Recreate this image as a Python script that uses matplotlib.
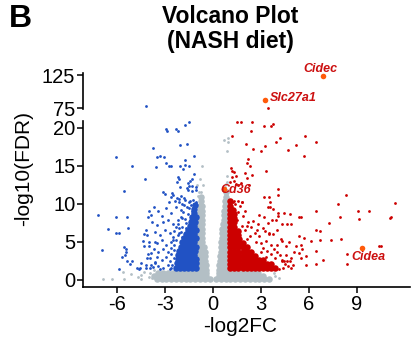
import matplotlib
matplotlib.use("Agg")
import matplotlib.pyplot as plt

plt.rcParams["font.family"] = ["Liberation Sans", "DejaVu Sans"]

RED = "#cc0000"
BLUE = "#2152c4"
GRAY = "#b3bfc5"
ORANGE = "#ff5a0a"
LABEL_RED = "#cc1010"

# ---- down-regulated genes (blue), scattered points
down_fc = [
    -3.71, -6.06, -5.06, -4.21, -5.54, -7.19, -6.04, -5.37, -3.96, -4.07,
    -3.88, -6.55, -6.04, -5.83, -5.29, -4.17, -4.30, -4.13, -4.36, -4.00,
    -3.63, -4.30, -3.99, -6.91, -5.54, -5.43, -5.39, -5.45, -5.66, -4.05,
    -3.84, -4.13, -3.93, -5.33, -5.02, -5.17, -4.50, -4.15, -3.86, -3.63,
    -5.87, -4.71, -4.63, -4.55, -4.17, -3.94, -3.76,
    -1.48, -2.93, -2.83, -2.29, -2.20, -1.73, -2.04, -1.60, -3.51, -3.30,
    -3.06, -1.19, -3.55, -2.93, -2.75, -2.58, -2.04, -1.71, -1.75, -1.46,
    -1.88, -1.19, -2.16, -2.12, -1.29, -1.44, -1.54, -2.22, -2.02, -1.63,
    -1.50, -1.27, -1.07, -1.54, -1.32, -1.04, -3.14, -2.99, -2.53, -2.47,
    -2.60, -2.25, -2.10, -1.98, -2.75, -2.35, -2.12, -1.79, -1.71, -1.44,
    -1.25, -1.04, -1.46,
    -3.70, -3.40, -3.20, -2.90, -2.60, -2.30, -2.00, -1.80, -1.50, -1.20,
    -3.80, -3.50, -3.10, -2.80, -2.50, -2.20, -1.90, -1.70, -2.10, -2.40,
    -3.60, -3.30, -3.00, -2.70, -2.50, -2.20, -3.50, -3.20, -2.90, -2.60,
    -3.70, -3.40, -3.10, -2.80, -2.60, -3.50, -3.20, -2.90, -2.70, -3.60,
    -3.40, -3.10, -2.80, -2.60, -3.30, -2.45, -2.45, -2.50, -2.30, -2.00,
    -1.90, -1.60, -1.35, -1.10, -1.85, -1.55, -1.30, -2.00, -1.75, -1.45,
    -2.20, -1.95, -1.70, -2.10, -1.95, -2.30, -2.45, -2.60, -2.55, -2.65,
    -4.19,
]
down_fdr = [
    17.3, 16.1, 14.9, 13.2, 11.7, 8.5, 8.3, 8.2, 9.0, 8.3,
    8.5, 6.7, 6.1, 6.1, 6.8, 6.6, 6.0, 5.9, 5.1, 5.0,
    5.0, 4.4, 4.5, 3.9, 4.3, 4.0, 3.6, 3.3, 3.0, 3.4,
    3.5, 2.8, 2.8, 2.4, 2.4, 2.1, 2.2, 2.0, 1.9, 2.2,
    1.4, 1.6, 1.4, 1.5, 1.5, 1.6, 1.7,
    20.7, 19.8, 19.6, 19.8, 19.6, 20.3, 17.7, 17.8, 16.1, 16.3,
    16.1, 16.3, 14.8, 15.3, 15.0, 15.0, 15.0, 15.7, 15.1, 14.9,
    14.6, 13.9, 13.5, 13.2, 13.3, 13.0, 12.7, 12.8, 12.2, 12.1,
    12.3, 12.3, 12.2, 11.8, 11.7, 11.8, 11.6, 11.3, 11.4, 11.2,
    10.9, 10.8, 10.6, 11.0, 10.2, 10.3, 10.2, 10.8, 10.5, 10.4,
    10.5, 10.2, 10.2,
    9.6, 9.1, 8.4, 9.4, 8.8, 9.5, 9.2, 9.8, 9.4, 9.9,
    7.6, 7.2, 7.6, 7.9, 7.3, 7.8, 8.1, 7.4, 6.8, 6.4,
    6.3, 5.9, 6.6, 6.1, 5.6, 5.9, 4.8, 5.2, 4.6, 4.9,
    4.0, 3.7, 4.1, 3.6, 4.2, 3.0, 2.6, 3.0, 2.4, 2.3,
    1.8, 1.6, 1.9, 1.5, 1.4, 2.9, 3.9, 5.2, 6.9, 6.3,
    9.9, 9.6, 9.8, 9.5, 8.9, 8.7, 9.0, 8.3, 8.0, 7.9,
    7.3, 7.0, 6.8, 6.1, 5.6, 5.2, 4.6, 3.4, 2.0, 1.4,
    79.0,
]

# dense core of the blue group: one fdr level per row
down_core_fdr = [1.6, 2.15, 2.7, 3.25, 3.8, 4.35, 4.9, 5.45, 6.0, 6.55, 7.1,
                 7.65, 8.2, 8.75, 9.3, 9.85]
down_core_fc = [
    [-2.3, -2.05, -1.8, -1.55, -1.3, -1.05],
    [-2.25, -2.0, -1.75, -1.5, -1.25, -1.05],
    [-2.2, -1.95, -1.7, -1.45, -1.2, -1.05],
    [-2.15, -1.9, -1.65, -1.4, -1.15],
    [-2.1, -1.85, -1.6, -1.35, -1.1],
    [-2.0, -1.75, -1.5, -1.25, -1.05],
    [-1.9, -1.65, -1.4, -1.15],
    [-1.8, -1.55, -1.3, -1.08],
    [-1.65, -1.4, -1.15],
    [-1.55, -1.3, -1.08],
    [-1.45, -1.2],
    [-1.35, -1.1],
    [-1.3, -1.08],
    [-1.2],
    [-1.15],
    [-1.1],
]

# ---- up-regulated genes (red), scattered points
up_fc = [
    1.48, 1.73, 2.45, 3.16, 3.65, 3.74, 2.35, 1.19, 5.75, 4.19,
    3.94, 2.08, 3.26, 2.53, 3.01, 5.17, 4.69, 5.66, 6.43, 2.20,
    2.14, 2.33, 3.34, 1.13, 1.19, 1.29, 1.98, 2.45, 1.17, 1.44,
    1.34, 1.05, 2.16, 1.46, 1.77, 1.60, 2.25, 4.09, 4.05, 3.20,
    3.51, 1.07, 1.23, 1.58, 1.83, 3.57, 3.57, 8.29, 7.81, 11.38,
    6.43, 5.35, 4.81, 9.08, 9.72, 9.10, 7.92, 11.13, 11.05, 7.26,
    4.09, 3.68, 4.61, 4.86, 6.45, 6.66, 5.37, 5.68, 6.10, 7.34,
    8.02, 6.68, 10.47, 10.36, 8.35, 8.35, 6.88, 6.45, 5.79, 5.00,
    4.34, 4.65, 4.34, 4.55, 5.17, 5.48, 5.06, 5.58, 5.79, 5.48,
    6.41, 3.47, 3.76, 4.07, 4.44, 5.52, 2.85, 3.16, 2.53, 3.45,
    3.92, 4.34, 4.03, 2.16, 2.78, 3.26, 3.53, 3.78, 4.24, 4.03,
    4.75, 5.37, 4.55, 4.90, 4.44,
    1.40, 1.70, 1.20, 1.60, 2.00, 1.90, 1.50, 2.20, 1.80, 2.40,
    2.00, 2.60, 2.30, 2.90, 2.10, 2.70, 3.00, 3.30, 3.60, 3.10,
    3.40, 3.80, 3.00, 3.60, 4.00, 3.30, 3.90, 4.20, 4.30, 4.50,
    4.70, 4.40, 4.80, 4.10, 4.90, 3.50, 2.80, 3.10, 1.30, 1.80,
    3.45,
]
up_fdr = [
    20.7, 20.8, 20.8, 20.2, 20.2, 20.5, 19.6, 18.9, 18.9, 18.6,
    18.1, 17.8, 17.6, 17.2, 16.9, 17.7, 17.1, 16.3, 18.1, 15.9,
    15.3, 15.0, 14.3, 14.7, 14.3, 14.2, 14.0, 13.8, 13.5, 13.6,
    13.0, 12.9, 13.4, 12.6, 12.7, 12.4, 12.4, 11.9, 11.1, 10.9,
    10.9, 10.3, 10.2, 10.3, 10.2, 10.2, 9.5, 11.1, 9.9, 10.1,
    9.1, 8.3, 8.7, 9.0, 9.0, 8.0, 8.3, 8.2, 8.1, 7.5,
    8.4, 7.9, 7.3, 7.3, 6.6, 6.4, 5.7, 5.5, 5.1, 5.2,
    5.3, 5.2, 4.5, 4.4, 3.4, 2.1, 2.6, 2.1, 1.9, 2.0,
    2.4, 2.4, 5.1, 4.4, 4.4, 4.6, 3.7, 4.0, 3.1, 2.9,
    3.8, 9.6, 9.3, 8.8, 8.8, 8.3, 8.5, 8.2, 7.7, 7.5,
    7.9, 7.3, 6.6, 7.1, 6.5, 6.4, 6.2, 6.0, 5.3, 4.6,
    4.9, 3.5, 3.3, 2.9, 2.4,
    10.0, 9.7, 9.4, 8.9, 9.1, 8.4, 7.9, 7.6, 7.1, 6.9,
    6.5, 6.2, 5.8, 5.7, 5.4, 5.0, 4.8, 5.1, 4.6, 4.2,
    3.8, 4.1, 3.6, 3.4, 3.6, 3.0, 2.9, 3.2, 2.6, 2.1,
    1.8, 1.6, 2.4, 1.4, 1.5, 6.0, 7.3, 6.8, 10.4, 10.2,
    76.0,
]

up_core_fdr = [1.5, 2.05, 2.6, 3.15, 3.7, 4.25, 4.8, 5.35, 5.9, 6.45, 7.0,
               7.55, 8.1, 8.65, 9.2, 9.75, 10.3]
up_core_fc = [
    [1.1, 1.35, 1.6, 1.85, 2.1, 2.35, 2.6, 2.85, 3.1, 3.35, 3.6, 3.85],
    [1.1, 1.35, 1.6, 1.85, 2.1, 2.35, 2.6, 2.85, 3.1, 3.35, 3.65],
    [1.1, 1.35, 1.6, 1.85, 2.1, 2.35, 2.6, 2.85, 3.1],
    [1.1, 1.35, 1.6, 1.85, 2.1, 2.35, 2.65],
    [1.1, 1.35, 1.6, 1.85, 2.1, 2.4],
    [1.1, 1.35, 1.6, 1.85, 2.15],
    [1.1, 1.35, 1.6, 1.9],
    [1.1, 1.35, 1.65],
    [1.1, 1.35, 1.6],
    [1.1, 1.35, 1.55],
    [1.1, 1.35],
    [1.1, 1.35],
    [1.1, 1.3],
    [1.1, 1.3],
    [1.1, 1.25],
    [1.1],
    [1.1],
]

# ---- not significant (gray)
ns_fc = [
    -6.87, -5.54, -4.50, -6.28, -5.62, -4.46, -3.65, -4.00, -4.30, -3.90,
    -4.70, -5.10, -3.80, -0.70, -0.80, -0.98, -0.63, -0.85, -0.70, 0.71,
    0.94, 0.94, 0.86, 0.88, 0.80, 0.90, 3.90, 4.10, 3.80, -0.75,
    -0.9, 0.75, 0.9,
]
ns_fdr = [
    0.1, 0.1, 0.1, 0.1, 1.06, 0.6, 1.3, 0.4, 1.0, 0.9,
    0.3, 0.7, 0.2, 14.9, 13.3, 12.5, 12.4, 11.5, 11.0, 18.4,
    18.6, 18.1, 16.9, 13.7, 12.6, 11.8, 0.5, 0.2, 0.9, 11.6,
    11.0, 12.2, 12.9,
]

ns_core_fdr = [0.1, 0.5, 0.9, 1.3, 1.9, 2.5, 3.1, 3.7, 4.3, 4.9, 5.5, 6.1, 6.7,
               7.3, 7.9, 8.5, 9.1, 9.7, 10.3, 10.9, 11.5]
ns_core_fc = [
    [-3.5, -3.2, -2.9, -2.6, -2.3, -2.0, -1.7, -1.4, -1.1, -0.8, -0.5, -0.2,
     0.2, 0.5, 0.8, 1.1, 1.4, 1.7, 2.0, 2.3, 2.6, 2.9, 3.2, 3.5],
    [-3.7, -3.4, -3.1, -2.8, -2.5, -2.2, -1.9, -1.6, -1.3, -1.0, -0.7, -0.4,
     0.4, 0.7, 1.0, 1.3, 1.6, 1.9, 2.2, 2.5, 2.8, 3.1],
    [-3.4, -3.1, -2.8, -2.5, -2.2, -1.9, -1.6, -1.3, -1.0, -0.7, -0.4,
     0.4, 0.7, 1.0, 1.3, 1.6, 1.9, 2.2, 2.5, 2.8],
    [-0.95, -0.7, -0.45, 0.4, 0.65, 0.9],
    [-0.95, -0.7, -0.45, 0.4, 0.65, 0.9],
    [-0.95, -0.7, -0.48, 0.42, 0.65, 0.9],
    [-0.92, -0.7, -0.5, 0.45, 0.68, 0.9],
    [-0.9, -0.7, -0.52, 0.48, 0.7, 0.92],
    [-0.9, -0.7, -0.55, 0.5, 0.72, 0.92],
    [-0.88, -0.7, 0.52, 0.74, 0.92],
    [-0.88, -0.7, 0.55, 0.75, 0.92],
    [-0.86, -0.7, 0.58, 0.78, 0.92],
    [-0.85, -0.7, 0.6, 0.8, 0.92],
    [-0.85, -0.7, 0.65, 0.85],
    [-0.84, -0.7, 0.68, 0.88],
    [-0.82, -0.68, 0.7, 0.88],
    [-0.8, -0.66, 0.72, 0.9],
    [-0.78, -0.66, 0.75, 0.9],
    [-0.75, 0.78, 0.9],
    [-0.75, 0.82],
    [0.85],
]

# ---- highlighted genes
hl_genes = ["Cidec", "Slc27a1", "Cd36", "Cidea"]
hl_fc = [6.86, 3.26, 0.72, 9.29]
hl_fdr = [123.5, 87.5, 11.9, 4.2]


def expand(levels, rows):
    xs, ys = [], []
    for lev, row in zip(levels, rows):
        xs.extend(row)
        ys.extend([lev] * len(row))
    return xs, ys


fig = plt.figure(figsize=(4.15, 3.4), dpi=100)
ax_lo = fig.add_axes([0.2, 0.156, 0.788, 0.488])
ax_hi = fig.add_axes([0.2, 0.679, 0.788, 0.106])

core_s = 22
pt_s = 4
for ax in (ax_lo, ax_hi):
    cx, cy = expand(ns_core_fdr, ns_core_fc)
    ax.scatter(cx, cy, s=core_s, color=GRAY, linewidths=0)
    ax.scatter(ns_fc, ns_fdr, s=pt_s, color=GRAY, linewidths=0)
    cx, cy = expand(down_core_fdr, down_core_fc)
    ax.scatter(cx, cy, s=core_s, color=BLUE, linewidths=0)
    ax.scatter(down_fc, down_fdr, s=pt_s, color=BLUE, linewidths=0)
    cx, cy = expand(up_core_fdr, up_core_fc)
    ax.scatter(cx, cy, s=core_s, color=RED, linewidths=0)
    ax.scatter(up_fc, up_fdr, s=pt_s, color=RED, linewidths=0)
    ax.scatter(hl_fc, hl_fdr, s=16, color=ORANGE, linewidths=0, zorder=5)
    ax.set_xlim(-8.1, 12.3)

ax_lo.set_ylim(-0.95, 20.87)
ax_hi.set_ylim(73.5, 128.5)

label_offsets = {"Cidec": (-1.5, 3.0, "center", "baseline"),
                 "Slc27a1": (3.6, 1.4, "left", "center"),
                 "Cd36": (-2.9, -0.7, "left", "center"),
                 "Cidea": (4.7, -6.5, "center", "center")}
for name, fc, fdr in zip(hl_genes, hl_fc, hl_fdr):
    ax = ax_hi if fdr > 50 else ax_lo
    dx, dy, ha, va = label_offsets[name]
    ax.annotate(name, (fc, fdr), xytext=(dx, dy), textcoords="offset points",
                ha=ha, va=va, fontsize=9, fontweight="bold", fontstyle="italic",
                color=LABEL_RED, zorder=6)

for ax in (ax_lo, ax_hi):
    for side in ("top", "right"):
        ax.spines[side].set_visible(False)
    ax.spines["left"].set_linewidth(1.2)
    ax.spines["bottom"].set_linewidth(1.2)
    ax.tick_params(direction="out", length=4, width=1.1, labelsize=14.5, pad=1.5)

ax_hi.spines["bottom"].set_visible(False)
ax_hi.set_xticks([])
ax_hi.set_yticks([75, 125])

ax_lo.set_xticks([-6, -3, 0, 3, 6, 9])
ax_lo.set_xticklabels(["-6", "-3", "0", "3", "6", "9"])
ax_lo.set_yticks([0, 5, 10, 15, 20])

fig.text(240 / 415, 1 - 327 / 340, "-log2FC", ha="center", va="center", fontsize=15)
fig.text(24 / 415, 1 - 168 / 340, "-log10(FDR)", ha="center", va="center",
         rotation=90, fontsize=15)
fig.text(230 / 415, 1 - 29 / 340, "Volcano Plot\n(NASH diet)", ha="center",
         va="center", fontsize=16.5, fontweight="bold", linespacing=1.1)
fig.text(9 / 415, 1 - 19 / 340, "B", ha="left", va="center", fontsize=23,
         fontweight="bold")

fig.savefig("out.png", dpi=100)
